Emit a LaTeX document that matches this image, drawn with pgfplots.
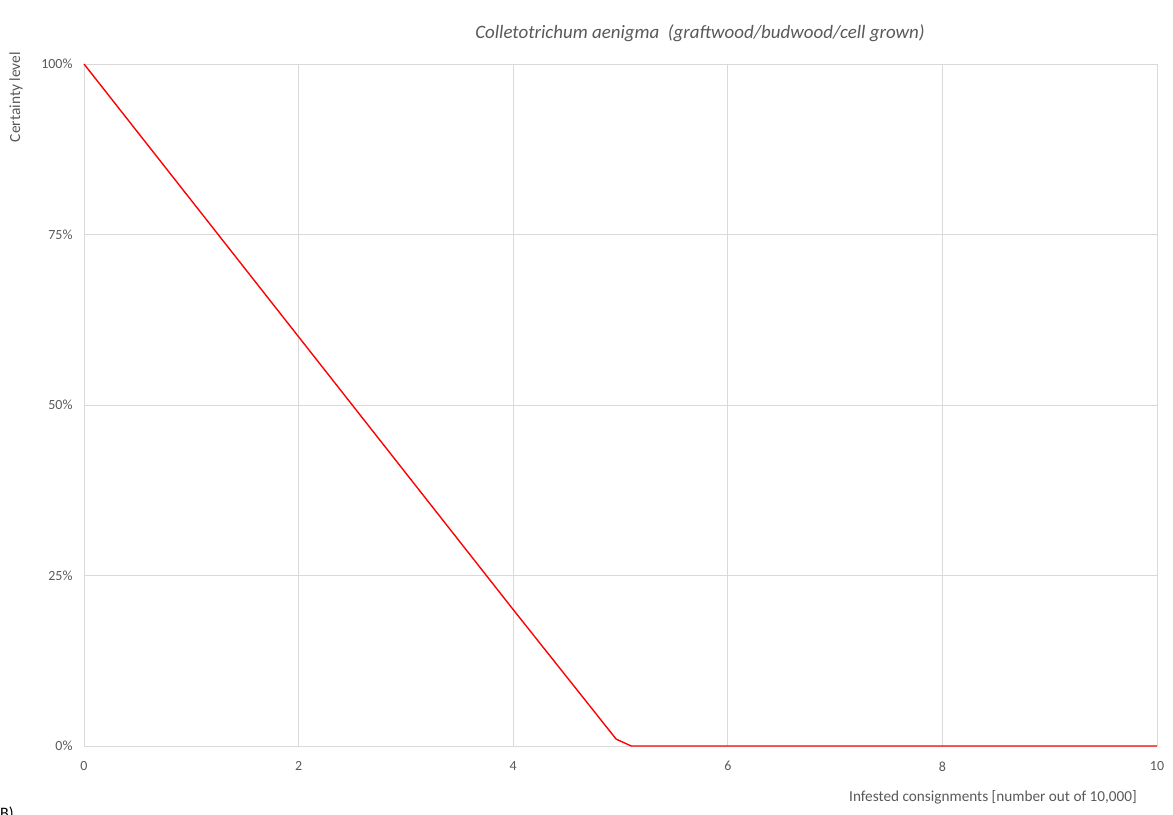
\documentclass[border=0pt]{standalone}
\usepackage{fontspec}
\setmainfont{Carlito}
\usepackage{pgfplots}
\pgfplotsset{compat=1.18}
\definecolor{gridc}{HTML}{D9D9D9}
\definecolor{txt}{HTML}{595959}
\begin{document}
\begin{tikzpicture}[x=1bp,y=1bp]
\useasboundingbox (0,0) rectangle (1173,815);
\clip (0,0) rectangle (1173,815);
\begin{axis}[
  at={(84bp,69bp)}, anchor=south west,
  scale only axis, width=1073bp, height=682bp,
  xmin=0, xmax=10, ymin=0, ymax=1,
  xtick={0,2,4,6,8,10},
  ytick={0,0.25,0.5,0.75,1},
  yticklabels={0\%,25\%,50\%,75\%,100\%},
  grid=major,
  major grid style={gridc, line width=0.9pt},
  axis line style={draw=none},
  tick style={draw=none},
  clip=false,
  ticklabel style={font=\fontsize{14}{16}\selectfont, text=txt},
  /pgf/number format/assume math mode=true,
  xticklabel style={yshift=-12bp},
  yticklabel style={xshift=-8bp},
]
\addplot[red, line width=1.4pt] coordinates {
  (0,1) (1,0.8) (2,0.6) (3,0.4) (4,0.2) (4.96,0.01) (5.1,0) (6,0) (8,0) (10,0)
};
\end{axis}
\node[font=\fontsize{19}{22}\selectfont\itshape, text=txt] at (700,782) {Colletotrichum aenigma\ \ (graftwood/budwood/cell grown)};
\node[font=\fontsize{15.3}{18}\selectfont, text=txt] at (993,18) {Infested consignments [number out of 10,000]};
\node[font=\fontsize{15.5}{18}\selectfont, text=txt, rotate=90, anchor=center] at (16,718) {Certainty level};
\node[font=\fontsize{16}{18}\selectfont, anchor=north west, inner sep=0pt] at (0,8) {B)};
\end{tikzpicture}
\end{document}
